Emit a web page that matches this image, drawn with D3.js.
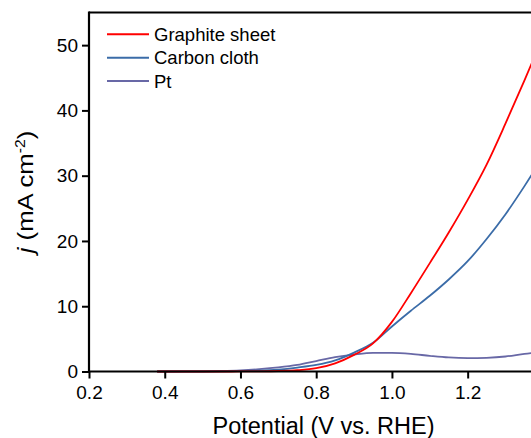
<!DOCTYPE html>
<html>
<head>
<meta charset="utf-8">
<script src="https://cdn.jsdelivr.net/npm/d3@7"></script>
<style>
  body { margin: 0; background: #fff; }
  svg { display: block; font-family: "Liberation Sans", Arial, sans-serif; }
</style>
</head>
<body>
<svg id="chart" width="531" height="438"></svg>
<script>
// potential (V vs. RHE) sample points
const potential = [0.38, 0.4, 0.45, 0.5, 0.55, 0.6, 0.65, 0.7, 0.75, 0.8, 0.85, 0.9, 0.95, 1.0, 1.05, 1.1, 1.15, 1.2, 1.25, 1.3, 1.35, 1.4];
// current density j (mA cm-2)
const graphite = [0, 0, 0, 0, 0, 0.01, 0.03, 0.08, 0.2, 0.5, 1.25, 2.55, 4.3, 7.6, 12.0, 16.6, 21.3, 26.3, 31.7, 38.0, 44.6, 51.4];
const carbon   = [0, 0, 0, 0, 0.02, 0.06, 0.13, 0.3, 0.6, 1.0, 1.7, 2.9, 4.4, 6.9, 9.3, 11.6, 14.1, 16.9, 20.3, 24.1, 28.4, 33.0];
const pt       = [0, 0, 0.01, 0.03, 0.08, 0.18, 0.36, 0.62, 1.0, 1.6, 2.2, 2.6, 2.85, 2.85, 2.7, 2.4, 2.15, 2.05, 2.1, 2.3, 2.7, 3.0];

const seriesNames = ['Graphite sheet', 'Carbon cloth', 'Pt'];
const seriesValues = [graphite, carbon, pt];
const seriesColors = ['#ff0000', '#3b6ca8', '#6868a6'];

const xTicks = [0.2, 0.4, 0.6, 0.8, 1.0, 1.2];
const yTicks = [0, 10, 20, 30, 40, 50];

const svg = d3.select('#chart');
const margin = { top: 12.5, left: 89, bottom: 371.5 };
const plotRight = 543.4;  // frame runs past the picture's right edge

const x = d3.scaleLinear().domain([0.2, 1.4]).range([margin.left, plotRight]);
const y = d3.scaleLinear().domain([0, 55]).range([margin.bottom, margin.top]);

// curves
const line = d3.line()
    .x(d => x(d[0]))
    .y(d => y(d[1]))
    .curve(d3.curveMonotoneX);

// draw Pt first so the other two sit on top
[2, 1, 0].forEach(i => {
    svg.append('path')
        .datum(potential.map((p, k) => [p, seriesValues[i][k]]))
        .attr('fill', 'none')
        .attr('stroke', seriesColors[i])
        .attr('stroke-width', 1.8)
        .attr('d', line);
});

// top frame
svg.append('line')
    .attr('x1', margin.left).attr('x2', plotRight)
    .attr('y1', margin.top).attr('y2', margin.top)
    .attr('stroke', '#000').attr('stroke-width', 2);

// x axis
const xAxis = svg.append('g').attr('transform', `translate(0,${margin.bottom})`);
xAxis.call(d3.axisBottom(x).tickValues(d3.range(0.3, 1.45, 0.2)).tickSize(4).tickFormat(''));
xAxis.call(d3.axisBottom(x).tickValues(xTicks).tickSize(7).tickFormat(d3.format('.1f')));
xAxis.selectAll('.domain').attr('stroke-width', 2.2).attr('d', `M${margin.left},0H${plotRight}`);
xAxis.selectAll('.tick line').attr('stroke-width', 2);
xAxis.selectAll('.tick text')
    .attr('font-size', 19).attr('fill', '#000')
    .attr('y', 27).attr('dy', null)
    .attr('font-family', '"Liberation Sans", Arial, sans-serif');

// y axis
const yAxis = svg.append('g').attr('transform', `translate(${margin.left},0)`);
yAxis.call(d3.axisLeft(y).tickValues(d3.range(5, 55, 10)).tickSize(4).tickFormat(''));
yAxis.call(d3.axisLeft(y).tickValues(yTicks).tickSize(7));
yAxis.selectAll('.domain').attr('stroke-width', 2.2).attr('d', `M0,${margin.bottom + 1}V${margin.top - 1}`);
yAxis.selectAll('.tick line').attr('stroke-width', 2);
yAxis.selectAll('.tick text')
    .attr('font-size', 19).attr('fill', '#000')
    .attr('x', -11)
    .attr('font-family', '"Liberation Sans", Arial, sans-serif');

// axis titles
svg.append('text')
    .attr('x', 323.5).attr('y', 434)
    .attr('text-anchor', 'middle')
    .attr('font-size', 23.5)
    .text('Potential (V vs. RHE)');

const yTitle = svg.append('text')
    .attr('transform', 'translate(33,192) rotate(-90) scale(1.12,1)')
    .attr('text-anchor', 'middle')
    .attr('font-size', 23);
yTitle.append('tspan').attr('font-style', 'italic').text('j');
yTitle.append('tspan').text(' (mA cm');
yTitle.append('tspan').attr('font-size', 14).attr('dy', -8).text('-2');
yTitle.append('tspan').attr('dy', 8).text(')');

// legend
const legend = svg.append('g');
seriesNames.forEach((name, i) => {
    const ly = 34.3 + i * 23.4;
    legend.append('line')
        .attr('x1', 107).attr('x2', 149)
        .attr('y1', ly).attr('y2', ly)
        .attr('stroke', seriesColors[i]).attr('stroke-width', 2);
    legend.append('text')
        .attr('x', 154).attr('y', ly + 6.5)
        .attr('font-size', 18.5)
        .text(name);
});
</script>
</body>
</html>
